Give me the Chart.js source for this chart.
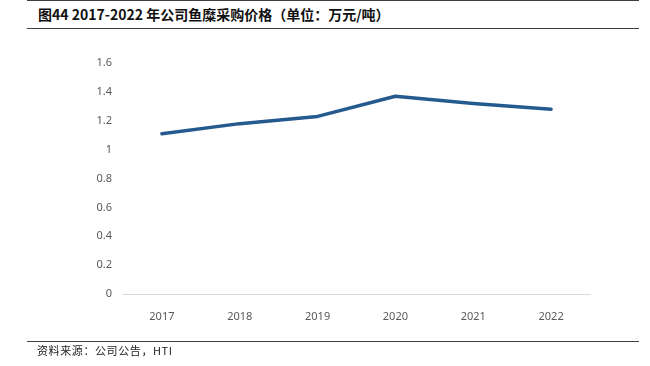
<!DOCTYPE html>
<html>
<head>
<meta charset="utf-8">
<script src="https://cdn.jsdelivr.net/npm/chart.js@4"></script>
<style>
  html, body { margin: 0; padding: 0; background: #fff; }
  #wrap { position: relative; width: 650px; height: 366px; overflow: hidden; }
  #chart-box { position: absolute; left: 0; top: 0; width: 650px; height: 366px; }
  .rule { position: absolute; left: 27px; width: 612px; height: 1px; background: #404040; }
  #title {
    position: absolute; left: 38px; top: 4px;
    font-family: "Noto Sans CJK SC", "Noto Sans", sans-serif;
    font-weight: bold; font-size: 14px; color: #111; white-space: nowrap;
  }
  #source {
    position: absolute; left: 37px; top: 342px;
    font-family: "Noto Sans CJK SC", "Noto Sans", sans-serif;
    font-size: 11px; color: #222; white-space: nowrap; letter-spacing: 0.6px;
  }
</style>
</head>
<body>
<div id="wrap">
  <div class="rule" style="top:0px;"></div>
  <div id="title">图44 2017-2022 年公司鱼糜采购价格（单位：万元/吨）</div>
  <div class="rule" style="top:28px;"></div>
  <div id="chart-box"><canvas id="priceChart"></canvas></div>
  <div class="rule" style="top:341px;"></div>
  <div id="source">资料来源：公司公告，HTI</div>
</div>
<script>
var years = ['2017', '2018', '2019', '2020', '2021', '2022'];
var prices = [1.11, 1.18, 1.23, 1.37, 1.32, 1.28];
var yMin = 0;
var yMax = 1.6;
var yStep = 0.2;

var tickFont = { family: '"Noto Sans", "DejaVu Sans", sans-serif', size: 11 };

var ctx = document.getElementById('priceChart').getContext('2d');
var priceChart = new Chart(ctx, {
    type: 'line',
    data: {
        labels: years,
        datasets: [{
            data: prices,
            borderColor: '#255a8f',
            borderWidth: 3.5,
            borderCapStyle: 'round',
            borderJoinStyle: 'round',
            pointRadius: 0,
            tension: 0,
            fill: false
        }]
    },
    options: {
        responsive: true,
        maintainAspectRatio: false,
        animation: false,
        layout: { padding: { top: 63, right: 60, bottom: 42, left: 0 } },
        plugins: {
            legend: { display: false },
            tooltip: { enabled: false }
        },
        scales: {
            x: {
                offset: true,
                grid: { display: false },
                border: { display: true, color: '#d9d9d9', width: 1 },
                ticks: { color: '#595959', font: tickFont, padding: 8 },
                afterFit: function(scale) { scale.height = 30; }
            },
            y: {
                min: yMin,
                max: yMax,
                grid: { display: false, drawTicks: false },
                border: { display: false },
                ticks: {
                    stepSize: yStep,
                    color: '#595959',
                    font: tickFont,
                    padding: 11,
                    callback: function(v) { return String(Number(v.toFixed(1))); }
                },
                afterFit: function(scale) { scale.width = 123; }
            }
        }
    }
});
</script>
</body>
</html>
